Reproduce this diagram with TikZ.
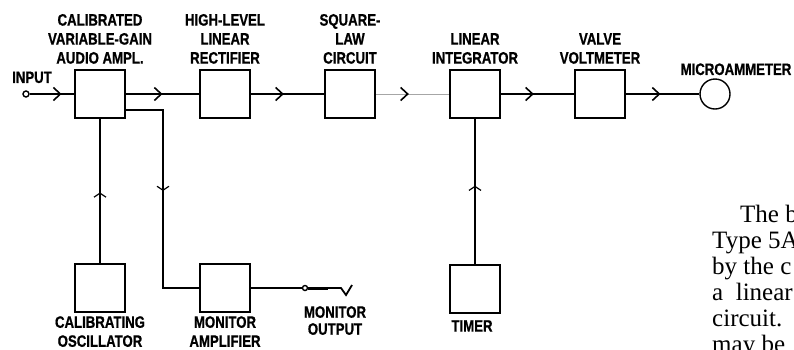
\documentclass[tikz,border=0pt]{standalone}
\usepackage{fontspec}
\newfontfamily\lblfont[FakeStretch=0.8,FakeBold=0.8]{Liberation Sans Bold}
\newfontfamily\bodyfont{Liberation Serif}
\usetikzlibrary{positioning,arrows.meta,decorations.markings}

\begin{document}
\begin{tikzpicture}[x=1pt,y=-1pt,
    blk/.style={draw,line width=2.1pt,minimum width=50pt,minimum height=48pt,inner sep=0pt},
    term/.style={draw,circle,line width=1.4pt,inner sep=0pt,minimum size=#1},
    term/.default=6pt,
    wire/.style={line width=1.8pt},
    lbl/.style={font=\lblfont\fontsize{16.5pt}{19pt}\selectfont,align=center,inner sep=0pt},
    body/.style={font=\bodyfont\fontsize{25pt}{26pt}\selectfont,inner sep=0pt,anchor=base west},
    midarr/.style={postaction={decorate},decoration={markings,mark=at position #1 with {\arrow[black]{Straight Barb[length=7pt,width=13pt,line width=1.6pt]}}}},
    midarr/.default=0.5,
    vmidarr/.style={postaction={decorate},decoration={markings,mark=at position #1 with {\arrow{Straight Barb[length=4pt,width=12pt,line width=1.2pt]}}}}]
        \useasboundingbox (0,0) rectangle (794,349);
        % main chain
        \node[term] (in) at (26,94) {};
        \node[blk] (amp) at (100,94) {};
        \node[blk] (rect) at (225,94) {};
        \node[blk] (sq) at (350,94) {};
        \node[blk] (integ) at (475,94) {};
        \node[blk] (vvm) at (600,94) {};
        \node[term=30pt] (meter) at (715,94) {};
        \draw[wire,midarr=0.72] (in) -- (amp);
        \draw[wire,midarr] (amp) -- (rect);
        \draw[wire,midarr=0.45] (rect) -- (sq);
        \draw[wire,gray!70,line width=1pt,midarr=0.45] (sq) -- (integ);
        \draw[wire,midarr=0.45] (integ) -- (vvm);
        \draw[wire,midarr=0.47] (vvm) -- (meter);
        % auxiliary units
        \node[blk] (osc) at (100,288) {};
        \node[blk] (mon) at (225,288) {};
        \node[blk] (tim) at (475,289) {};
        \node[term=5pt] (jack) at (305,288) {};
        \coordinate (tap) at (163,110);
        \draw[wire,vmidarr=0.49] (osc) -- (amp);
        \draw[wire,vmidarr=0.47] (amp.east |- tap) -- (tap) |- (mon);
        \draw[wire,vmidarr=0.54] (tim) -- (integ);
        % monitor output plug
        \coordinate (plg) at (328,288);
        \coordinate (tipl) at (341,288);
        \coordinate (vee) at (346,295);
        \coordinate (tipr) at (352,285);
        \draw[wire] (mon) -- (jack);
        \draw[line width=3pt] (jack) -- (plg);
        \draw[wire] (plg) -- (tipl) -- (vee) -- (tipr);
        % labels
        \node[lbl,above=5pt of amp] (ampl) {CALIBRATED\\VARIABLE-GAIN\\AUDIO AMPL.};
        \node[lbl,above=5pt of rect] (rectl) {HIGH-LEVEL\\LINEAR\\RECTIFIER};
        \node[lbl,above=5pt of sq] (sql) {SQUARE-\\LAW\\CIRCUIT};
        \node[lbl,above=5pt of integ] (integl) {LINEAR\\INTEGRATOR};
        \node[lbl,above=5pt of vvm] (vvml) {VALVE\\VOLTMETER};
        \node[lbl,above=3pt of meter,xshift=21pt] (meterl) {MICROAMMETER};
        \node[lbl,anchor=south west] (inl) at ([xshift=-14pt,yshift=7pt]in.north) {INPUT};
        \node[lbl,below=3pt of osc] (oscl) {CALIBRATING\\OSCILLATOR};
        \node[lbl,below=3pt of mon] (monl) {MONITOR\\AMPLIFIER};
        \node[lbl,below=6pt of tim,xshift=-3pt] (timl) {TIMER};
        \node[lbl,anchor=north,font=\lblfont\fontsize{16.5pt}{17pt}\selectfont] (jackl) at ([xshift=30pt,yshift=-18pt]jack.center) {MONITOR\\OUTPUT};
        % running text beside the figure
        \foreach \dx/\txt [count=\i] in {28/The b,0/Type 5A,0/by the c,0/a\ \ linear,0/circuit.,0/may be}
            \node[body] (para\i) at (712+\dx,196+26*\i) {\txt};
    \end{tikzpicture}
\end{document}
